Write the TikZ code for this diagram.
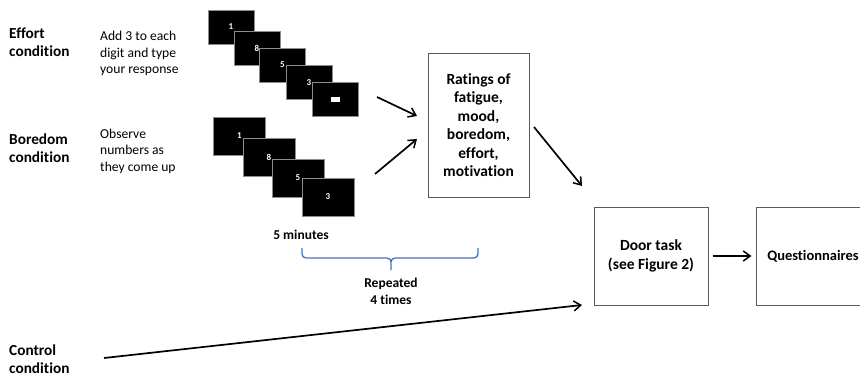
\documentclass[tikz,border=0pt]{standalone}
\usepackage{fontspec}
\setmainfont{Carlito}[Ligatures=NoCommon]
\usepackage{xcolor}
\usetikzlibrary{arrows.meta}
\definecolor{braceblue}{RGB}{68,114,196}
\tikzset{
  screen/.style={fill=black, draw=black!45, line width=0.8pt, text=white, inner sep=0pt,
    font=\bfseries\fontsize{9}{10}\selectfont, minimum width=46pt, minimum height=34pt},
  bigscreen/.style={screen, minimum width=52pt, minimum height=38pt},
  cond/.style={anchor=west, align=left, inner sep=0pt, font=\bfseries\fontsize{15.3}{18.5}\selectfont},
  instr/.style={anchor=west, align=left, inner sep=0pt, font=\fontsize{13.6}{16.5}\selectfont},
  stagebox/.style={draw=black!65, line width=1pt, align=center, inner sep=0pt,
    font=\bfseries\fontsize{15.5}{18.5}\selectfont},
  flow/.style={-{Straight Barb[length=7pt, width=10pt, line width=1.5pt]}, line width=1.7pt}
}

\begin{document}
\begin{tikzpicture}[x=1pt, y=-1pt]
    \clip (0,0) rectangle (860,378);
    \fill[white] (0,0) rectangle (860,378);

    \node[cond]  (EC) at (9, 42)    {Effort\\condition};
    \node[instr] (EI) at (100, 53.5) {Add 3 to each\\digit and type\\your response};
    \node[cond]  (BC) at (9, 148)   {Boredom\\condition};
    \node[instr] (BI) at (100, 151) {Observe\\numbers as\\they come up};
    \node[cond]  (CC) at (9, 359)   {Control\\condition};

    \node[screen] (E1) at (231, 27)   {1};
    \node[screen] (E2) at (257, 48)   {8};
    \node[screen] (E3) at (282.5, 65) {5};
    \node[screen] (E4) at (309, 82.5) {3};
    \node[screen] (E5) at (335, 99)   {\rule{9pt}{5pt}};

    \node[bigscreen] (B1) at (239.5, 136)   {1};
    \node[bigscreen] (B2) at (269, 157.5)   {8};
    \node[bigscreen] (B3) at (298, 178)     {5};
    \node[bigscreen] (B4) at (328, 197)     {3};

    \node[stagebox, minimum width=101pt, minimum height=144pt] (Rate) at (478.5, 125)
      {Ratings of\\fatigue,\\mood,\\boredom,\\effort,\\motivation};
    \node[stagebox, minimum width=114pt, minimum height=98pt] (Door) at (651, 256)
      {Door task\\(see Figure 2)};
    \node[stagebox, minimum width=114pt, minimum height=98pt,
      font=\bfseries\fontsize{14.5}{18.5}\selectfont] (Quest) at (813, 256)
      {Questionnaires};

    \node[font=\bfseries\fontsize{13.5}{16.5}\selectfont] (Min) at (301, 235) {5 minutes};
    \node[align=center, font=\bfseries\fontsize{13.5}{16.5}\selectfont] (Rep) at (391, 291.5)
      {Repeated\\4 times};

    \coordinate (EO) at (377, 97);
    \coordinate (EE) at (417, 116);
    \coordinate (BO) at (375, 174);
    \coordinate (BE) at (417, 139);
    \coordinate (RO) at (534, 127);
    \coordinate (RE) at (582, 186);
    \coordinate (CO) at (104, 358);
    \coordinate (CE) at (582, 305);

    \path (EO) edge[flow] (EE) (BO) edge[flow] (BE) (RO) edge[flow] (RE) (CO) edge[flow] (CE);
    \draw[flow, shorten <=4pt, shorten >=4pt] (Door) -- (Quest);

    \draw[braceblue, line width=1.3pt, rounded corners=4pt]
      (302, 248) -- (302, 258) -- (391, 258) -- (391, 270)
      (478, 248) -- (478, 258) -- (391, 258) -- (391, 270);
  \end{tikzpicture}
\end{document}
